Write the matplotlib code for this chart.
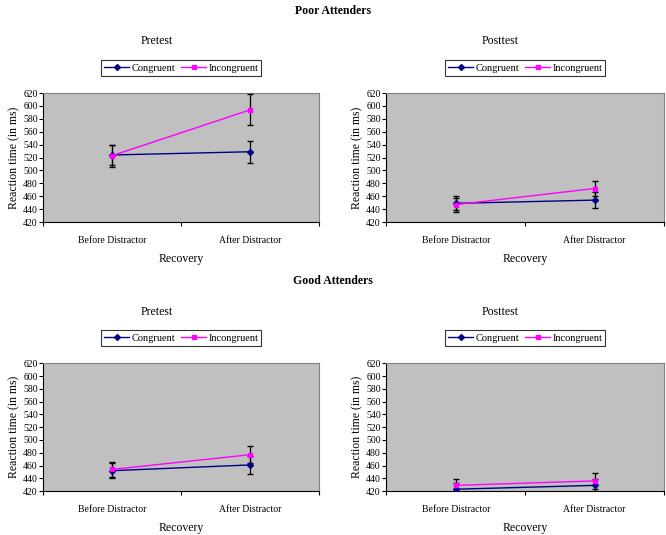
import numpy as np
import matplotlib
matplotlib.use("Agg")
import matplotlib.pyplot as plt
from matplotlib.lines import Line2D

plt.rcParams["font.family"] = ["Liberation Serif", "DejaVu Serif"]

# Data
conditions = ["Before Distractor", "After Distractor"]
series_names = ["Congruent", "Incongruent"]

poor_pre_cong = [524, 529]
poor_pre_cong_err = [16, 17]
poor_pre_incong = [523, 594]
poor_pre_incong_err = [17, 24]

poor_post_cong = [449, 454]
poor_post_cong_err = [11, 12]
poor_post_incong = [447, 472]
poor_post_incong_err = [11, 12]

good_pre_cong = [452, 461]
good_pre_cong_err = [12, 14]
good_pre_incong = [454, 477]
good_pre_incong_err = [12, 13]

good_post_cong = [423, 429]
good_post_cong_err = [10, 10]
good_post_incong = [429, 436]
good_post_incong_err = [10, 12]

panels = [
    ("Pretest", poor_pre_cong, poor_pre_cong_err, poor_pre_incong, poor_pre_incong_err),
    ("Posttest", poor_post_cong, poor_post_cong_err, poor_post_incong, poor_post_incong_err),
    ("Pretest", good_pre_cong, good_pre_cong_err, good_pre_incong, good_pre_incong_err),
    ("Posttest", good_post_cong, good_post_cong_err, good_post_incong, good_post_incong_err),
]

positions = [
    [0.065, 0.585, 0.414, 0.241],
    [0.580, 0.585, 0.417, 0.241],
    [0.065, 0.082, 0.414, 0.239],
    [0.580, 0.082, 0.417, 0.239],
]

cong_color = "#000080"
incong_color = "#ff00ff"

fig = plt.figure(figsize=(6.66, 5.35), dpi=100)

fig.text(0.5, 0.979, "Poor Attenders", ha="center", va="center", fontsize=8.5, fontweight="bold")
fig.text(0.5, 0.474, "Good Attenders", ha="center", va="center", fontsize=8.5, fontweight="bold")

x = np.arange(len(conditions)) + 0.5

handles = [
    Line2D([], [], color=cong_color, marker="D", markersize=3, linewidth=1.0),
    Line2D([], [], color=incong_color, marker="s", markersize=3.5, linewidth=1.0),
]

for (title, cong, cong_err, incong, incong_err), pos in zip(panels, positions):
    ax = fig.add_axes(pos)
    ax.set_facecolor("#c0c0c0")

    ax.errorbar(x, cong, yerr=cong_err, color=cong_color, marker="D", markersize=3,
                linewidth=1.0, ecolor="black", elinewidth=0.9, capsize=2.5, zorder=3)
    ax.errorbar(x, incong, yerr=incong_err, color=incong_color, marker="s", markersize=3.5,
                linewidth=1.0, ecolor="black", elinewidth=0.9, capsize=2.5, zorder=3)

    ax.set_xlim(0, 2)
    ax.set_ylim(420, 620)
    ax.set_yticks(np.arange(420, 621, 20))
    ax.set_xticks([0, 1, 2])
    ax.set_xticklabels([])
    ax.set_xticks(x, minor=True)
    ax.set_xticklabels(conditions, minor=True)
    ax.tick_params(axis="x", which="minor", length=0, pad=10, labelsize=7)
    ax.tick_params(axis="x", which="major", length=3, direction="out")
    ax.tick_params(axis="y", length=3, direction="out", labelsize=7, pad=1)

    for side in ["top", "right"]:
        ax.spines[side].set_color("#808080")
    for side in ["left", "bottom"]:
        ax.spines[side].set_color("black")

    ax.set_xlabel("Recovery", fontsize=8.5, labelpad=6)
    ax.set_ylabel("Reaction time (in ms)", fontsize=8.5, labelpad=2)
    ax.set_title(title, fontsize=8.5, x=0.41, pad=35)

    leg = ax.legend(handles, series_names, loc="lower center", bbox_to_anchor=(0.5, 1.135), ncol=2,
                    fontsize=7.5, frameon=True, fancybox=False, edgecolor="black", borderpad=0.3,
                    handlelength=2.4, columnspacing=0.6, handletextpad=0.2, borderaxespad=0)
    leg.get_frame().set_linewidth(0.8)

fig.savefig("out.png", dpi=100)
